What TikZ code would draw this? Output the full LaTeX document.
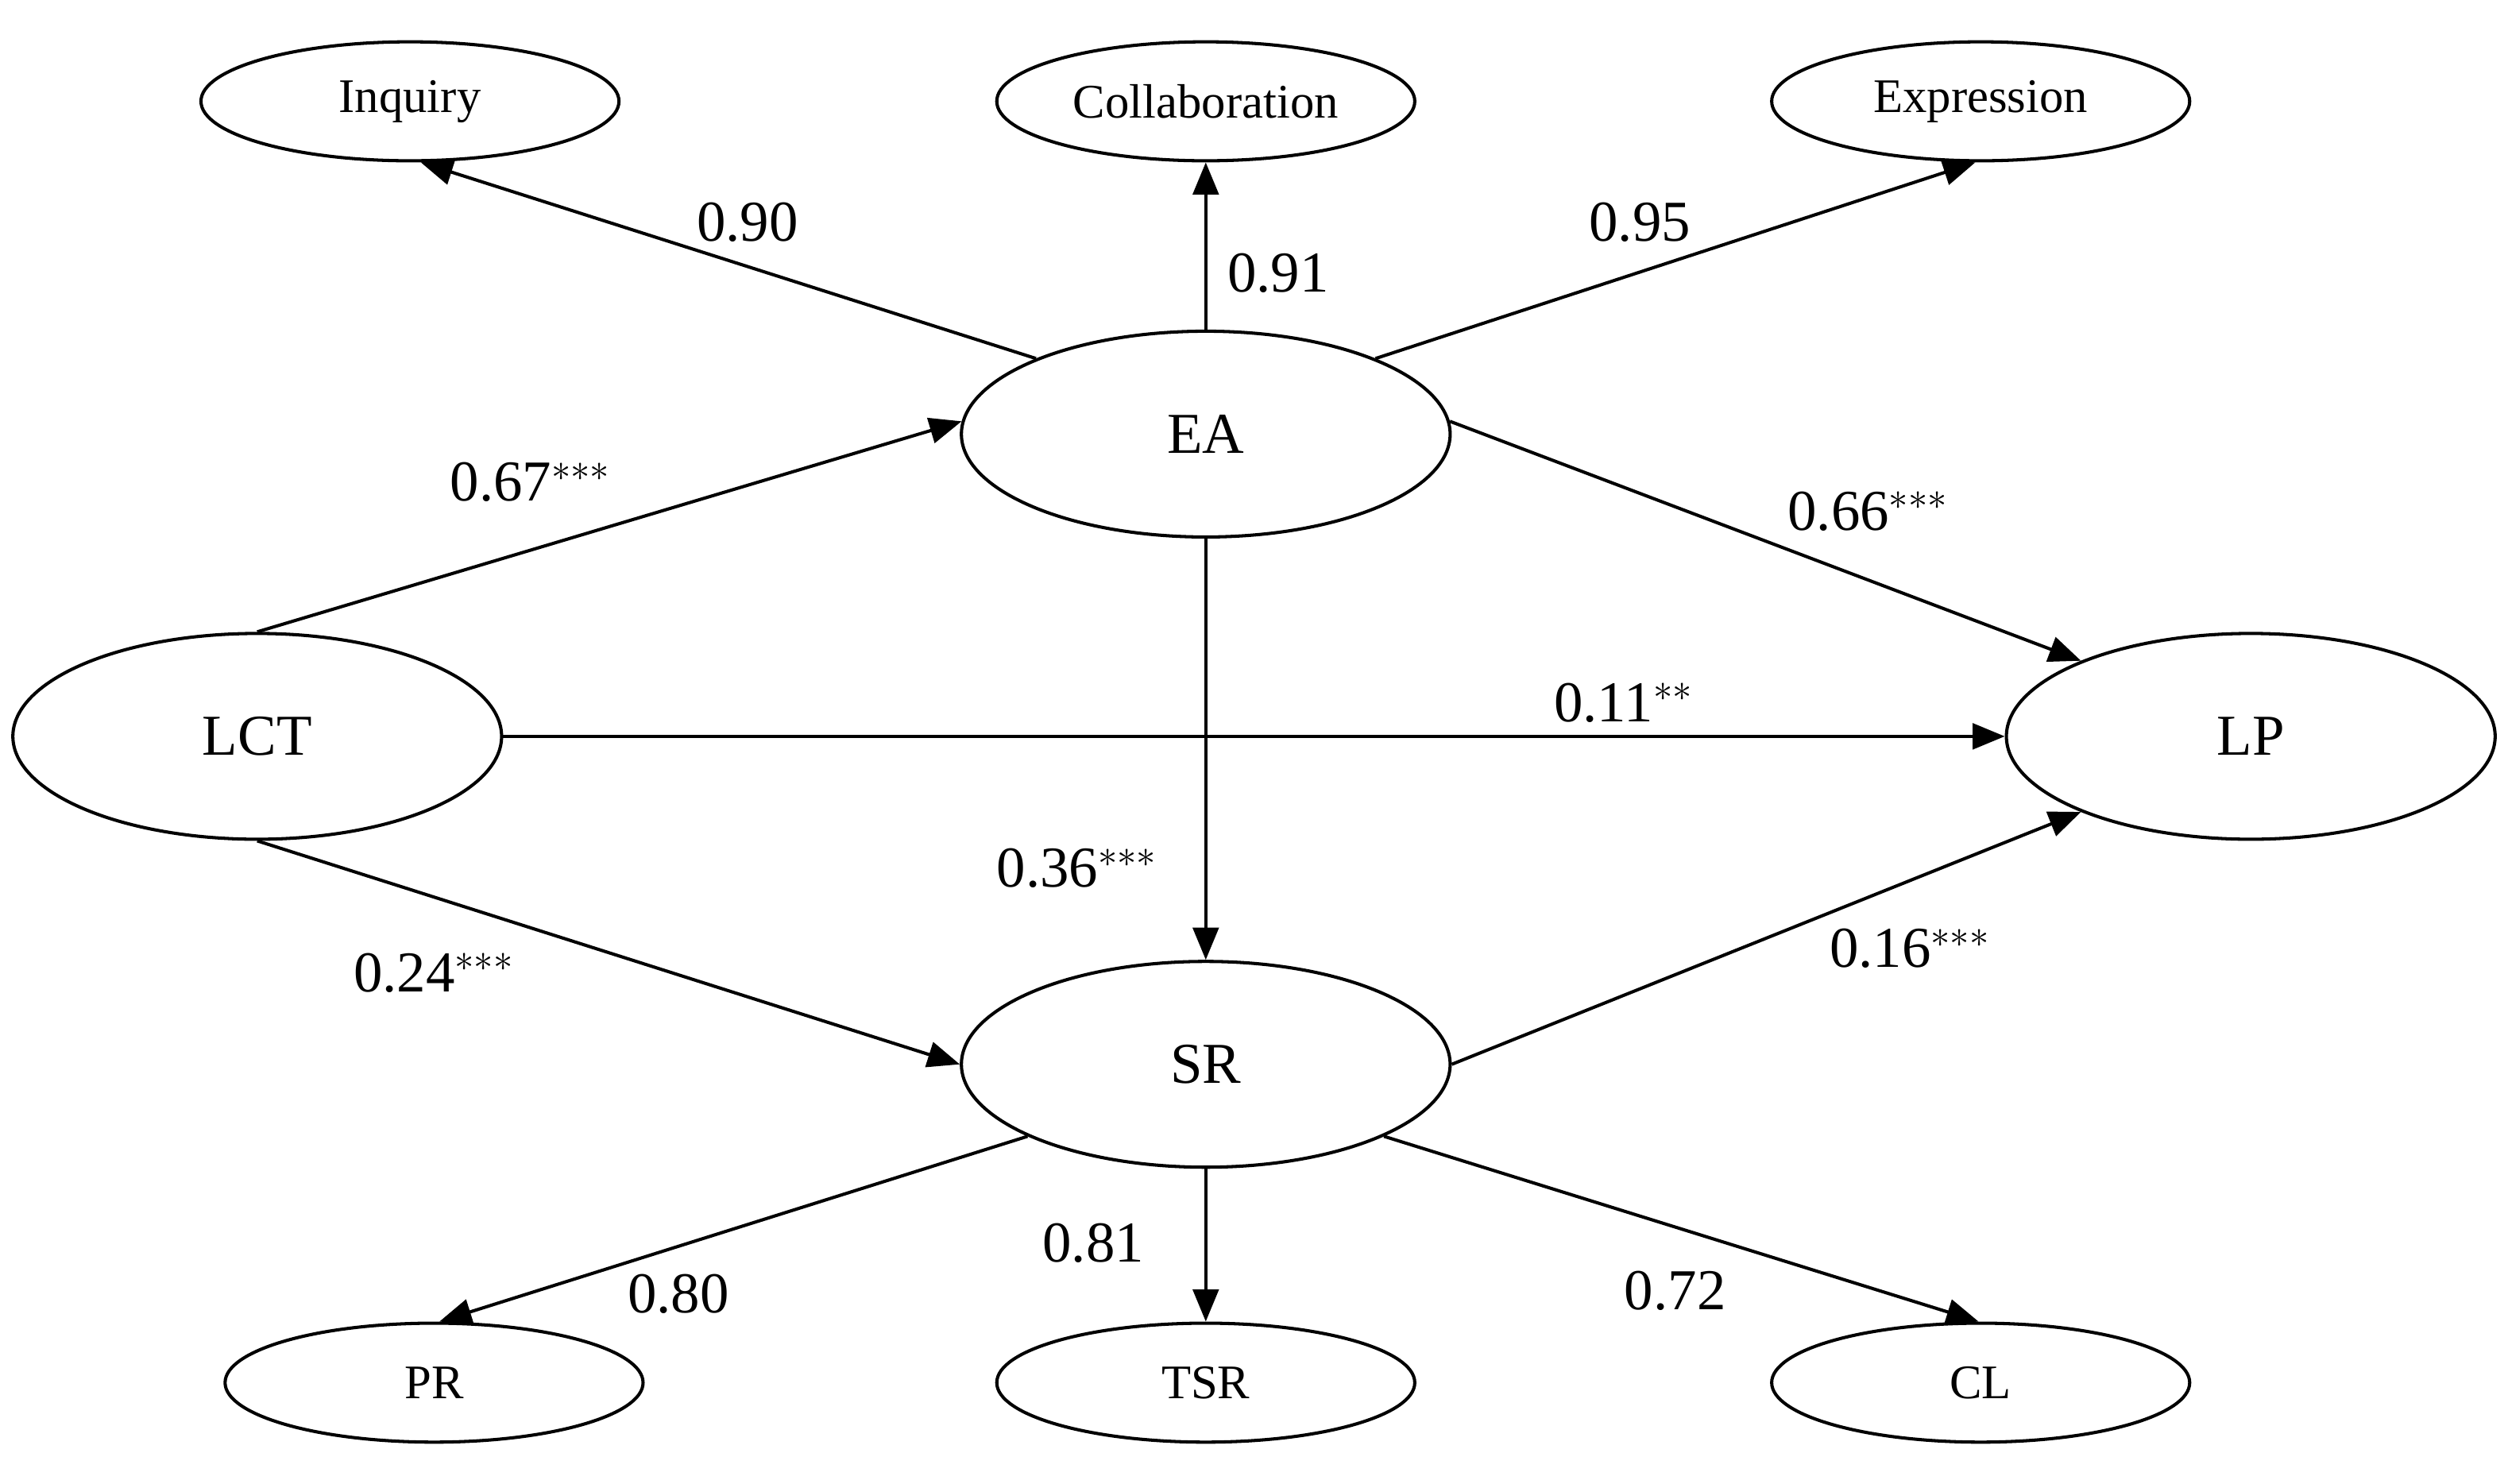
\documentclass[tikz,border=0pt]{standalone}
\usepackage{fontspec}
\setmainfont{Liberation Serif}
\usetikzlibrary{shapes.geometric,arrows.meta}
\begin{document}
\begin{tikzpicture}[x=0.5pt,y=-0.5pt,
  big/.style={ellipse,draw,line width=1pt,minimum width=152pt,minimum height=64pt,inner sep=0pt,font=\fontsize{18}{20}\selectfont},
  small/.style={ellipse,draw,line width=1pt,minimum width=130pt,minimum height=37pt,inner sep=0pt,font=\fontsize{15}{17}\selectfont},
  arr/.style={line width=1pt,-{Triangle[length=10pt,width=8pt]}},
  lab/.style={font=\fontsize{18}{20}\selectfont}]
\useasboundingbox (0,0) rectangle (1560,923);
\node[small] (inq) at (255,63) {Inquiry};
\node[small] (col) at (750,63) {Collaboration};
\node[small] (exp) at (1232,63) {Expression};
\node[big] (ea) at (750,270) {EA};
\node[big] (lct) at (160,458) {LCT};
\node[big] (lp) at (1400,458) {LP};
\node[big] (sr) at (750,662) {SR};
\node[small] (pr) at (270,860) {PR};
\node[small] (tsr) at (750,860) {TSR};
\node[small] (cl) at (1232,860) {CL};
\draw[arr] (ea.156) -- (inq.-80);
\draw[arr] (ea.north) -- (col.south);
\draw[arr] (ea.24) -- (exp.-95);
\draw[arr] (lct.north) -- (ea.177);
\draw[arr] (ea.3) -- (lp.156);
\draw[arr] (lct.east) -- (lp.west);
\draw[arr] (ea.south) -- (sr.north);
\draw[arr] (lct.south) -- (sr.180);
\draw[arr] (sr.0) -- (lp.204);
\draw[arr] (sr.202) -- (pr.85);
\draw[arr] (sr.south) -- (tsr.north);
\draw[arr] (sr.-22) -- (cl.92);
\node[lab] (l1) at (465,138) {0.90};
\node[lab] (l2) at (795,170) {0.91};
\node[lab] (l3) at (1020,138) {0.95};
\node[lab] (l4) at (330,300) {0.67$^{***}$};
\node[lab] (l5) at (1162,318) {0.66$^{***}$};
\node[lab] (l6) at (1010,437) {0.11$^{**}$};
\node[lab] (l7) at (670,540) {0.36$^{***}$};
\node[lab] (l8) at (270,605) {0.24$^{***}$};
\node[lab] (l9) at (1188,590) {0.16$^{***}$};
\node[lab] (l10) at (680,773) {0.81};
\node[lab] (l11) at (422,805) {0.80};
\node[lab] (l12) at (1042,803) {0.72};
\end{tikzpicture}
\end{document}
